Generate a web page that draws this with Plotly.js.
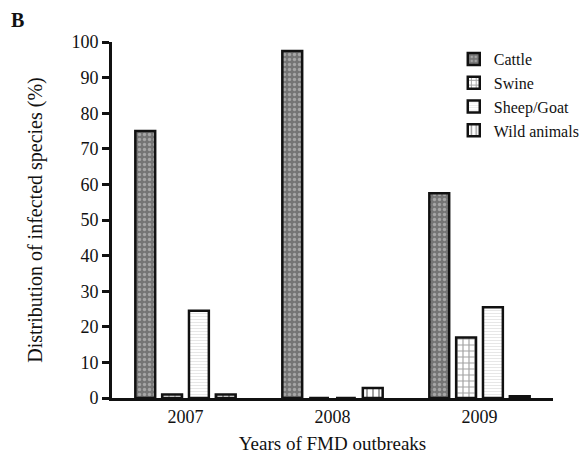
<!DOCTYPE html>
<html>
<head>
<meta charset="utf-8">
<script src="https://cdn.plot.ly/plotly-3.0.1.min.js"></script>
<style>html,body{margin:0;padding:0;background:#fff;}#chart{width:582px;height:458px;}</style>
</head>
<body>
<div id="chart"></div>
<script>
var years = ['2007', '2008', '2009'];
var cattle = [75, 97.5, 57.5];
var swine = [1, 0, 17];
var sheepGoat = [24.5, 0, 25.5];
var wildAnimals = [1, 2.8, 0.5];
var seriesNames = ['Cattle', 'Swine', 'Sheep/Goat', 'Wild animals'];
var yTicks = [0, 10, 20, 30, 40, 50, 60, 70, 80, 90, 100];

var font = "'Liberation Serif', 'Times New Roman', serif";
var line = {color: '#111', width: 2.5};

var traces = [
  {type: 'bar', name: seriesNames[0], x: years, y: cattle,
   marker: {color: '#757575', line: line,
            pattern: {shape: '.', fillmode: 'overlay', fgcolor: '#d8d8d8', size: 5, solidity: 0.35}}},
  {type: 'bar', name: seriesNames[1], x: years, y: swine,
   marker: {color: '#ffffff', line: line,
            pattern: {shape: '+', fillmode: 'overlay', fgcolor: '#444', size: 6, solidity: 0.35}}},
  {type: 'bar', name: seriesNames[2], x: years, y: sheepGoat,
   marker: {color: '#ffffff', line: line,
            pattern: {shape: '-', fillmode: 'overlay', fgcolor: '#cfcfcf', size: 3, solidity: 0.35}}},
  {type: 'bar', name: seriesNames[3], x: years, y: wildAnimals,
   marker: {color: '#ffffff', line: line,
            pattern: {shape: '|', fillmode: 'overlay', fgcolor: '#333', size: 6, solidity: 0.3}}}
];

var layout = {
  width: 582, height: 458,
  margin: {l: 112, r: 29, t: 42, b: 60, autoexpand: false},
  paper_bgcolor: '#fff', plot_bgcolor: '#fff',
  font: {family: font, size: 18, color: '#111'},
  barmode: 'group', bargap: 0.27, bargroupgap: 0.26,
  showlegend: true,
  legend: {x: 0.775, y: 1.0, xanchor: 'left', yanchor: 'top', bgcolor: 'rgba(0,0,0,0)',
           font: {family: font, size: 16, color: '#111'}, tracegroupgap: 0, itemwidth: 30},
  xaxis: {type: 'category', showline: true, linecolor: '#111', linewidth: 3,
          ticks: '', showgrid: false, zeroline: false,
          tickfont: {family: font, size: 18, color: '#111'},
          title: {text: 'Years of FMD outbreaks', font: {family: font, size: 19, color: '#111'}, standoff: 12}},
  yaxis: {range: [0, 100], tickvals: yTicks, showline: true, linecolor: '#111', linewidth: 3,
          ticks: 'outside', ticklen: 7, tickwidth: 3, tickcolor: '#111', showgrid: false, zeroline: false,
          tickfont: {family: font, size: 18, color: '#111'},
          title: {text: 'Distribution of infected species (%)', font: {family: font, size: 20, color: '#111'}, standoff: 24}},
  annotations: [{text: '<b>B</b>', xref: 'paper', yref: 'paper', x: -0.215, y: 1.062, xanchor: 'center', yanchor: 'middle',
                 showarrow: false, font: {family: font, size: 20, color: '#111'}}]
};

Plotly.newPlot('chart', traces, layout, {displayModeBar: false, staticPlot: true});
</script>
</body>
</html>
